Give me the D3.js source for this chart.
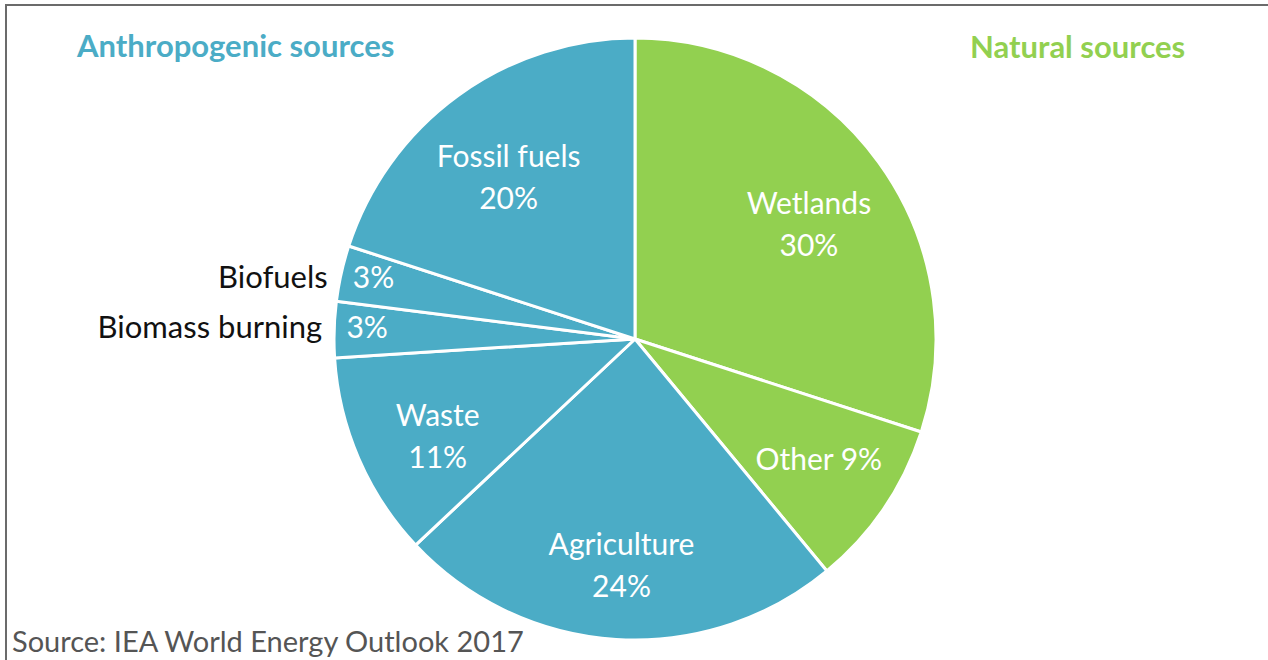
<!DOCTYPE html>
<html>
<head>
<meta charset="utf-8">
<script src="https://cdn.jsdelivr.net/npm/d3@7"></script>
<style>
  body { margin: 0; background: #fff; }
  svg { display: block; }
  .slice-label { fill: #fff; font-family: Lato, "Open Sans", sans-serif; font-size: 30px; }
  .out-label { fill: #111; font-family: Lato, "Open Sans", sans-serif; font-size: 31px; }
  .group-title { font-family: Lato, "Open Sans", sans-serif; font-weight: bold; font-size: 31px; }
</style>
</head>
<body>
<svg id="chart" width="1268" height="660"></svg>
<script>
// dane - udzialy zrodel metanu (zgodnie z ruchem wskazowek od godz. 12)
const categories = ["Wetlands", "Other", "Agriculture", "Waste", "Biomass burning", "Biofuels", "Fossil fuels"];
const shares = [30, 9, 24, 11, 3, 3, 20];
const groups = ["natural", "natural", "anthro", "anthro", "anthro", "anthro", "anthro"];
const groupTitles = ["Anthropogenic sources", "Natural sources"];
const sourceText = "Source: IEA World Energy Outlook 2017";

const WIDTH = 1268, HEIGHT = 660;
const CX = 635, CY = 339, R = 301;
const colors = { anthro: "#4bacc6", natural: "#92d050" };

const svg = d3.select("#chart");

// ramka (gorna i lewa krawedz)
svg.append("path")
  .attr("d", `M6,${HEIGHT} L6,5 L${WIDTH},5`)
  .attr("fill", "none")
  .attr("stroke", "#6b6b6b")
  .attr("stroke-width", 2);

const data = categories.map((c, i) => ({ name: c, value: shares[i], group: groups[i] }));

const pie = d3.pie().sort(null).value(d => d.value);
const arc = d3.arc().innerRadius(0).outerRadius(R);
const labelArc = d3.arc().innerRadius(215).outerRadius(215);
const smallArc = d3.arc().innerRadius(268).outerRadius(268);

const g = svg.append("g").attr("transform", `translate(${CX},${CY})`);
const arcs = pie(data);

g.selectAll("path.slice")
  .data(arcs)
  .enter()
  .append("path")
  .attr("class", "slice")
  .attr("d", arc)
  .attr("fill", d => colors[d.data.group])
  .attr("stroke", "#fff")
  .attr("stroke-width", 3)
  .attr("stroke-linejoin", "round");

// etykiety w wycinkach
arcs.forEach(d => {
  const small = d.data.value <= 3;
  const [x, y] = (small ? smallArc : labelArc).centroid(d);
  if (small) {
    g.append("text").attr("class", "slice-label")
      .attr("x", x).attr("y", y - 3).attr("dy", "0.35em")
      .attr("text-anchor", "middle")
      .text(d.data.value + "%");
    // nazwa na zewnatrz, przy krawedzi kola
    const edgeX = -Math.sqrt(R * R - y * y);
    g.append("text").attr("class", "out-label")
      .attr("x", edgeX - 12).attr("y", y - 3).attr("dy", "0.35em")
      .attr("text-anchor", "end")
      .text(d.data.name);
  } else if (d.data.name === "Other") {
    g.append("text").attr("class", "slice-label")
      .attr("x", x + 6).attr("y", y).attr("dy", "0.35em")
      .attr("text-anchor", "middle")
      .text(d.data.name + " " + d.data.value + "%");
  } else {
    const t = g.append("text").attr("class", "slice-label")
      .attr("text-anchor", "middle");
    t.append("tspan").attr("x", x).attr("y", y - 9).attr("dy", "0.35em").text(d.data.name);
    t.append("tspan").attr("x", x).attr("y", y + 33).attr("dy", "0.35em").text(d.data.value + "%");
  }
});

// tytuly grup
svg.append("text")
  .attr("class", "group-title")
  .attr("x", 77).attr("y", 57)
  .attr("fill", colors.anthro)
  .text(groupTitles[0]);

svg.append("text")
  .attr("class", "group-title")
  .attr("x", 970).attr("y", 58)
  .attr("fill", colors.natural)
  .text(groupTitles[1]);

// zrodlo
svg.append("text")
  .attr("x", 12).attr("y", 652)
  .attr("fill", "#555")
  .style("font-family", "Lato, 'Open Sans', sans-serif")
  .style("font-size", "29px")
  .text(sourceText);
</script>
</body>
</html>
